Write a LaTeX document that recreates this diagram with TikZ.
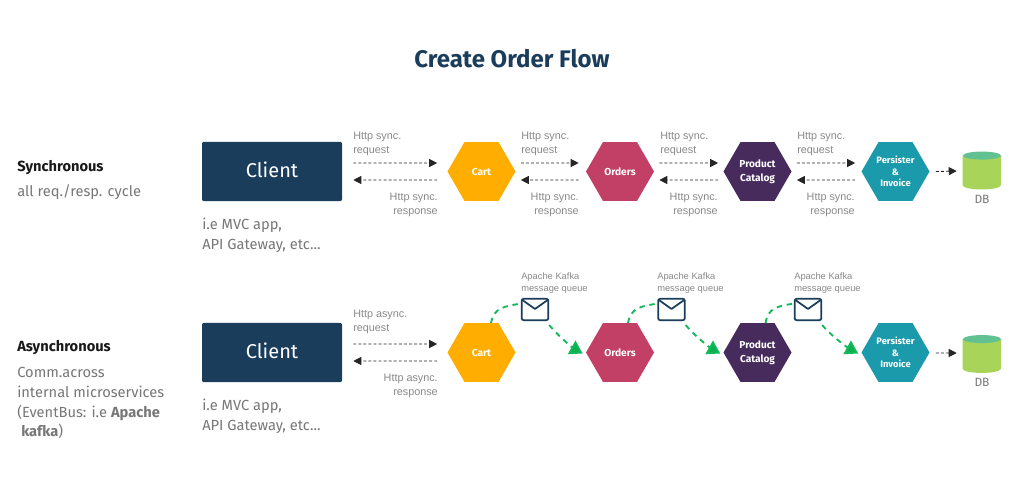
\documentclass[tikz,border=0pt]{standalone}
\usepackage{fontspec}
\setmainfont{Fira Sans}
\newfontfamily\labelfont{Liberation Sans}
\usetikzlibrary{shapes.geometric,arrows.meta}
\definecolor{navy}{HTML}{1B3D5C}
\definecolor{cartc}{HTML}{FFAE00}
\definecolor{ordersc}{HTML}{C24065}
\definecolor{productc}{HTML}{472B5C}
\definecolor{persistc}{HTML}{1A9AAA}
\definecolor{dbbody}{HTML}{A8D45A}
\definecolor{dbtop}{HTML}{62C193}
\definecolor{note}{HTML}{8A8A8A}
\definecolor{side}{HTML}{777777}
\definecolor{busgreen}{HTML}{12B95A}
\definecolor{tipgreen}{HTML}{0BB14F}
\tikzset{
  hexnode/.style={regular polygon,regular polygon sides=6,minimum size=51pt,inner sep=0pt,
    text=white,align=center,font=\bfseries\fontsize{7.6}{10.5}\selectfont},
  smallhex/.style={hexnode,font=\bfseries\fontsize{7}{8.6}\selectfont},
  clientbox/.style={draw=none,fill=navy,rounded corners=1.5pt,minimum width=105pt,minimum height=44.5pt,
    inner sep=0pt},
  clientname/.style={inner sep=0pt,text=white,font=\fontsize{15}{18}\selectfont},
  note/.style={inner sep=0pt,text=note,font=\labelfont\fontsize{8.1}{10}\selectfont},
  noteleft/.style={note,anchor=west,align=left},
  noteright/.style={note,anchor=east,align=right},
  kafkanote/.style={noteleft,font=\labelfont\fontsize{7}{9}\selectfont},
  sidehead/.style={inner sep=0pt,anchor=west,text=black!90,font=\bfseries\fontsize{11}{14}\selectfont},
  sidetext/.style={inner sep=0pt,anchor=west,align=left,text=side,font=\fontsize{11}{14.9}\selectfont},
  clientnote/.style={inner sep=0pt,anchor=west,align=left,text=side,font=\fontsize{11}{15}\selectfont},
  flow/.style={draw=black!85,line width=0.7pt,dash pattern=on 2.2pt off 1.6pt,
    -{Triangle[length=6pt,width=6pt,fill=black!85]}},
  envelope/.style={draw=navy,line width=1.3pt,rounded corners=1.5pt,fill=white,
    minimum width=20pt,minimum height=16pt,inner sep=0pt},
  bus/.style={draw=busgreen,line width=1.4pt,dash pattern=on 4pt off 3.6pt},
  busarrow/.style={bus,-{Triangle[length=9.5pt,width=11.5pt,fill=tipgreen]}},
  dbnode/.style={inner sep=0pt,minimum width=28.5pt,minimum height=22pt},
  dblabel/.style={inner sep=0pt,text=side,font=\fontsize{9}{11}\selectfont}
}
% Cylinder drawn around a named node so that connectors can reach it
\newcommand{\dbcyl}[3]{%
  \node[dbnode] (#1) at (#2,#3) {};
  \fill[dbbody] (#1.north west) -- (#1.south west)
    arc[start angle=180,end angle=360,x radius=14.25pt,y radius=3pt]
    -- (#1.north east) -- cycle;
  \fill[dbtop] (#1.north) ellipse[x radius=14.25pt,y radius=3pt];
}
% Envelope icon: rounded frame and a folded flap
\newcommand{\mailicon}[3]{%
  \node[envelope] (#1) at (#2,#3) {};
  \draw[navy,line width=1.3pt,line join=round]
    ([shift={(1.5,2)}]#1.north west) -- ([shift={(0,11)}]#1.north) -- ([shift={(-1.5,2)}]#1.north east);
}
\begin{document}
\begin{tikzpicture}[x=0.75pt,y=-0.75pt]
\useasboundingbox (0,0) rectangle (1024,496);
\fill[white] (0,0) rectangle (1024,496);

\node[inner sep=0pt,text=navy,font=\bfseries\fontsize{18}{22}\selectfont] (title) at (512,59) {Create Order Flow};

% Synchronous row
\node[sidehead] (synchead) at (17,168) {Synchronous};
\node[sidetext] (synctext) at (17,192) {all req./resp. cycle};
\node[clientbox] (client1) at (272,171.5) {};
\node[clientname] (client1name) at (272,170) {Client};
\node[clientnote] (client1note) at (202,235) {i.e MVC app,\\API Gateway, etc...};
\node[hexnode,fill=cartc] (cart1) at (481.5,171.5) {Cart};
\node[hexnode,fill=ordersc] (orders1) at (620,171.5) {Orders};
\node[hexnode,fill=productc] (product1) at (757.5,171.5) {Product\\Catalog};
\node[smallhex,fill=persistc] (persist1) at (895.5,171.5) {Persister\\\&\\Invoice};
\dbcyl{db1}{982}{170.5}
\node[dblabel] (db1label) at (982,199) {DB};

\node[noteleft] (req1) at (353,144) {Http sync.\\request};
\node[noteleft] (req2) at (521,144) {Http sync.\\request};
\node[noteleft] (req3) at (660,144) {Http sync.\\request};
\node[noteleft] (req4) at (797,144) {Http sync.\\request};
\node[noteright] (res1) at (438,205) {Http sync.\\response};
\node[noteright] (res2) at (579,205) {Http sync.\\response};
\node[noteright] (res3) at (718,205) {Http sync.\\response};
\node[noteright] (res4) at (855,205) {Http sync.\\response};

\draw[flow] ([shift={(11,-8.5)}]client1.east) -- ([shift={(-10,-8.5)}]cart1.west);
\draw[flow] ([shift={(-10,8.5)}]cart1.west) -- ([shift={(11,8.5)}]client1.east);
\draw[flow] ([shift={(5,-8.5)}]cart1.east) -- ([shift={(-7,-8.5)}]orders1.west);
\draw[flow] ([shift={(-7,8.5)}]orders1.west) -- ([shift={(5,8.5)}]cart1.east);
\draw[flow] ([shift={(5,-8.5)}]orders1.east) -- ([shift={(-5,-8.5)}]product1.west);
\draw[flow] ([shift={(-5,8.5)}]product1.west) -- ([shift={(5,8.5)}]orders1.east);
\draw[flow] ([shift={(5,-8.5)}]product1.east) -- ([shift={(-6,-8.5)}]persist1.west);
\draw[flow] ([shift={(-6,8.5)}]persist1.west) -- ([shift={(5,8.5)}]product1.east);
\draw[flow] ([shift={(6,0)}]persist1.east) -- ([shift={(-6,0.5)}]db1.west);

% Asynchronous row
\node[sidehead] (asynchead) at (17,348) {Asynchronous};
\node[sidetext] (asynctext) at (17,403) {Comm.across\\internal microservices\\(EventBus: i.e \textbf{Apache}\\\hspace*{3pt}\textbf{kafka})};
\node[clientbox] (client2) at (272,352.5) {};
\node[clientname] (client2name) at (272,351) {Client};
\node[clientnote] (client2note) at (202,416) {i.e MVC app,\\API Gateway, etc...};
\node[hexnode,fill=cartc] (cart2) at (481.5,352.5) {Cart};
\node[hexnode,fill=ordersc] (orders2) at (620,352.5) {Orders};
\node[hexnode,fill=productc] (product2) at (757.5,352.5) {Product\\Catalog};
\node[smallhex,fill=persistc] (persist2) at (895.5,352.5) {Persister\\\&\\Invoice};
\dbcyl{db2}{982}{354}
\node[dblabel] (db2label) at (982,382) {DB};

\node[noteleft] (areq) at (353,322) {Http async.\\request};
\node[noteright] (ares) at (438,386) {Http async.\\response};
\draw[flow] ([shift={(11,-8.5)}]client2.east) -- ([shift={(-10,-8.5)}]cart2.west);
\draw[flow] ([shift={(-10,8.5)}]cart2.west) -- ([shift={(11,8.5)}]client2.east);
\draw[flow] ([shift={(6,0.5)}]persist2.east) -- ([shift={(-6,-1)}]db2.west);

% Message queues between services
\mailicon{mail1}{535}{309.5}
\mailicon{mail2}{671.5}{309.5}
\mailicon{mail3}{808}{309.5}
\node[kafkanote] (kafka1) at (521,283) {Apache Kafka\\message queue};
\node[kafkanote] (kafka2) at (657,283) {Apache Kafka\\message queue};
\node[kafkanote] (kafka3) at (794,283) {Apache Kafka\\message queue};

\draw[bus] ([shift={(9.5,-29.5)}]cart2.center) .. controls +(3,-16) and +(-16,3) .. ([shift={(0,-6)}]mail1.west);
\draw[bus] ([shift={(8,-29.5)}]orders2.center) .. controls +(3,-16) and +(-16,3) .. ([shift={(0,-6)}]mail2.west);
\draw[bus] ([shift={(8,-29.5)}]product2.center) .. controls +(3,-16) and +(-16,3) .. ([shift={(0,-6)}]mail3.west);
\draw[busarrow] ([shift={(0,4)}]mail1.south east) .. controls +(10,12) and +(-9,-5) .. ([shift={(-3,1)}]orders2.west);
\draw[busarrow] ([shift={(0,4)}]mail2.south east) .. controls +(10,12) and +(-9,-5) .. ([shift={(-3,1)}]product2.west);
\draw[busarrow] ([shift={(0,4)}]mail3.south east) .. controls +(10,12) and +(-9,-5) .. ([shift={(-3,1)}]persist2.west);
\end{tikzpicture}
\end{document}
